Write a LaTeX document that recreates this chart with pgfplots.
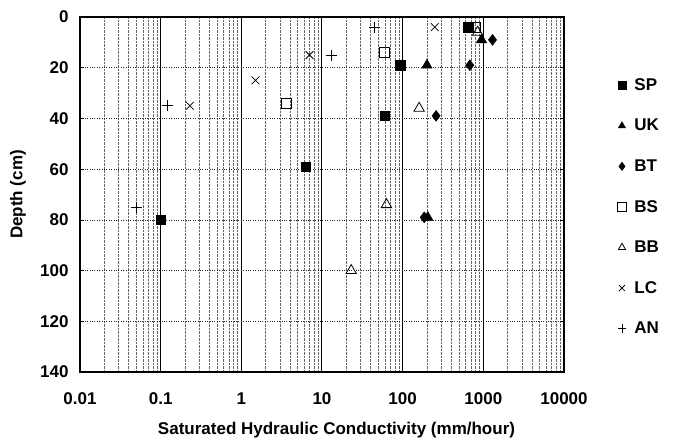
\documentclass[border=0pt]{standalone}
\usepackage{fontspec}
\setmainfont{Liberation Sans}
\usepackage{pgfplots}
\pgfplotsset{compat=1.18}
\begin{document}
\begin{tikzpicture}
\useasboundingbox (-80pt,-65pt) rectangle (598pt,372pt);
\begin{axis}[
  at={(0pt,0pt)}, anchor=south west,
  scale only axis, width=484pt, height=355pt,
  xmode=log, log basis x=10, xmin=0.01, xmax=10000,
  ymin=0, ymax=140, y dir=reverse,
  xtick={0.01,0.1,1,10,100,1000,10000},
  xticklabels={0.01,0.1,1,10,100,1000,10000},
  minor xtick={0.02,0.03,0.04,0.05,0.06,0.07,0.08,0.09,
    0.2,0.3,0.4,0.5,0.6,0.7,0.8,0.9,
    2,3,4,5,6,7,8,9,
    20,30,40,50,60,70,80,90,
    200,300,400,500,600,700,800,900,
    2000,3000,4000,5000,6000,7000,8000,9000},
  ytick={0,20,...,140},
  grid=both,
  major x grid style={black, line width=1pt},
  minor x grid style={black!60, densely dotted, line width=0.5pt},
  major y grid style={black!85, dotted, line width=0.7pt},
  axis line style={line width=1.5pt},
  xtick style={draw=none},
  minor tick length=0pt,
  ytick style={black, line width=0.6pt},
  major tick length=4pt,
  tick align=inside,
  /pgf/number format/assume math mode=true,
  tick label style={font=\fontsize{17}{20}\selectfont\bfseries},
  yticklabel style={xshift=-8pt},
  xticklabel style={yshift=-17pt},
  label style={font=\fontsize{17}{20}\selectfont\bfseries},
  xlabel={Saturated Hydraulic Conductivity (mm/hour)},
  ylabel={Depth (cm)},
  xlabel style={at={(axis description cs:0.53,-0.163)}, anchor=center},
  ylabel style={at={(axis description cs:-0.128,0.5)}, anchor=center, rotate=0},
  legend style={at={(axis description cs:1.104,0.83)}, anchor=north west,
    draw=none, fill=none, inner sep=0pt, row sep=25.3pt,
    font=\fontsize{17}{20}\selectfont\bfseries,
    nodes={inner sep=1pt}},
  legend cell align=left,
  legend image code/.code={\path (0pt,0pt) (18pt,0pt); \draw[#1, mark size=4.2pt] plot coordinates {(7pt,0pt)};},
]
\addplot[only marks, mark=square*, mark size=4.8pt, black] coordinates {
 (650,4) (94,19) (60,39) (6.3,59) (0.1,80)};
\addlegendentry{SP}
\addplot[only marks, mark=triangle*, mark size=6pt, black] coordinates {
 (950,9) (200,19) (205,79)};
\addlegendentry{UK}
\addplot[only marks, mark=diamond*, mark size=5.5pt, black] coordinates {
 (1300,9) (680,19) (260,39) (185,79)};
\addlegendentry{BT}
\addplot[only marks, mark=square, mark size=5pt, black, line width=0.9pt, mark options={fill=white}] coordinates {
 (800,4) (60,14) (3.6,34)};
\addlegendentry{BS}
\addplot[only marks, mark=triangle, mark size=6pt, black, line width=0.8pt, mark options={fill=white}] coordinates {
 (850,6) (160,36) (63,74) (23,100)};
\addlegendentry{BB}
\addplot[only marks, mark=x, mark size=5.5pt, black, line width=0.8pt] coordinates {
 (250,4) (7,15) (1.5,25) (0.23,35)};
\addlegendentry{LC}
\addplot[only marks, mark=+, mark size=5.5pt, black, line width=0.8pt] coordinates {
 (45,4) (13,15) (0.12,35) (0.05,75)};
\addlegendentry{AN}
\end{axis}
\end{tikzpicture}
\end{document}
